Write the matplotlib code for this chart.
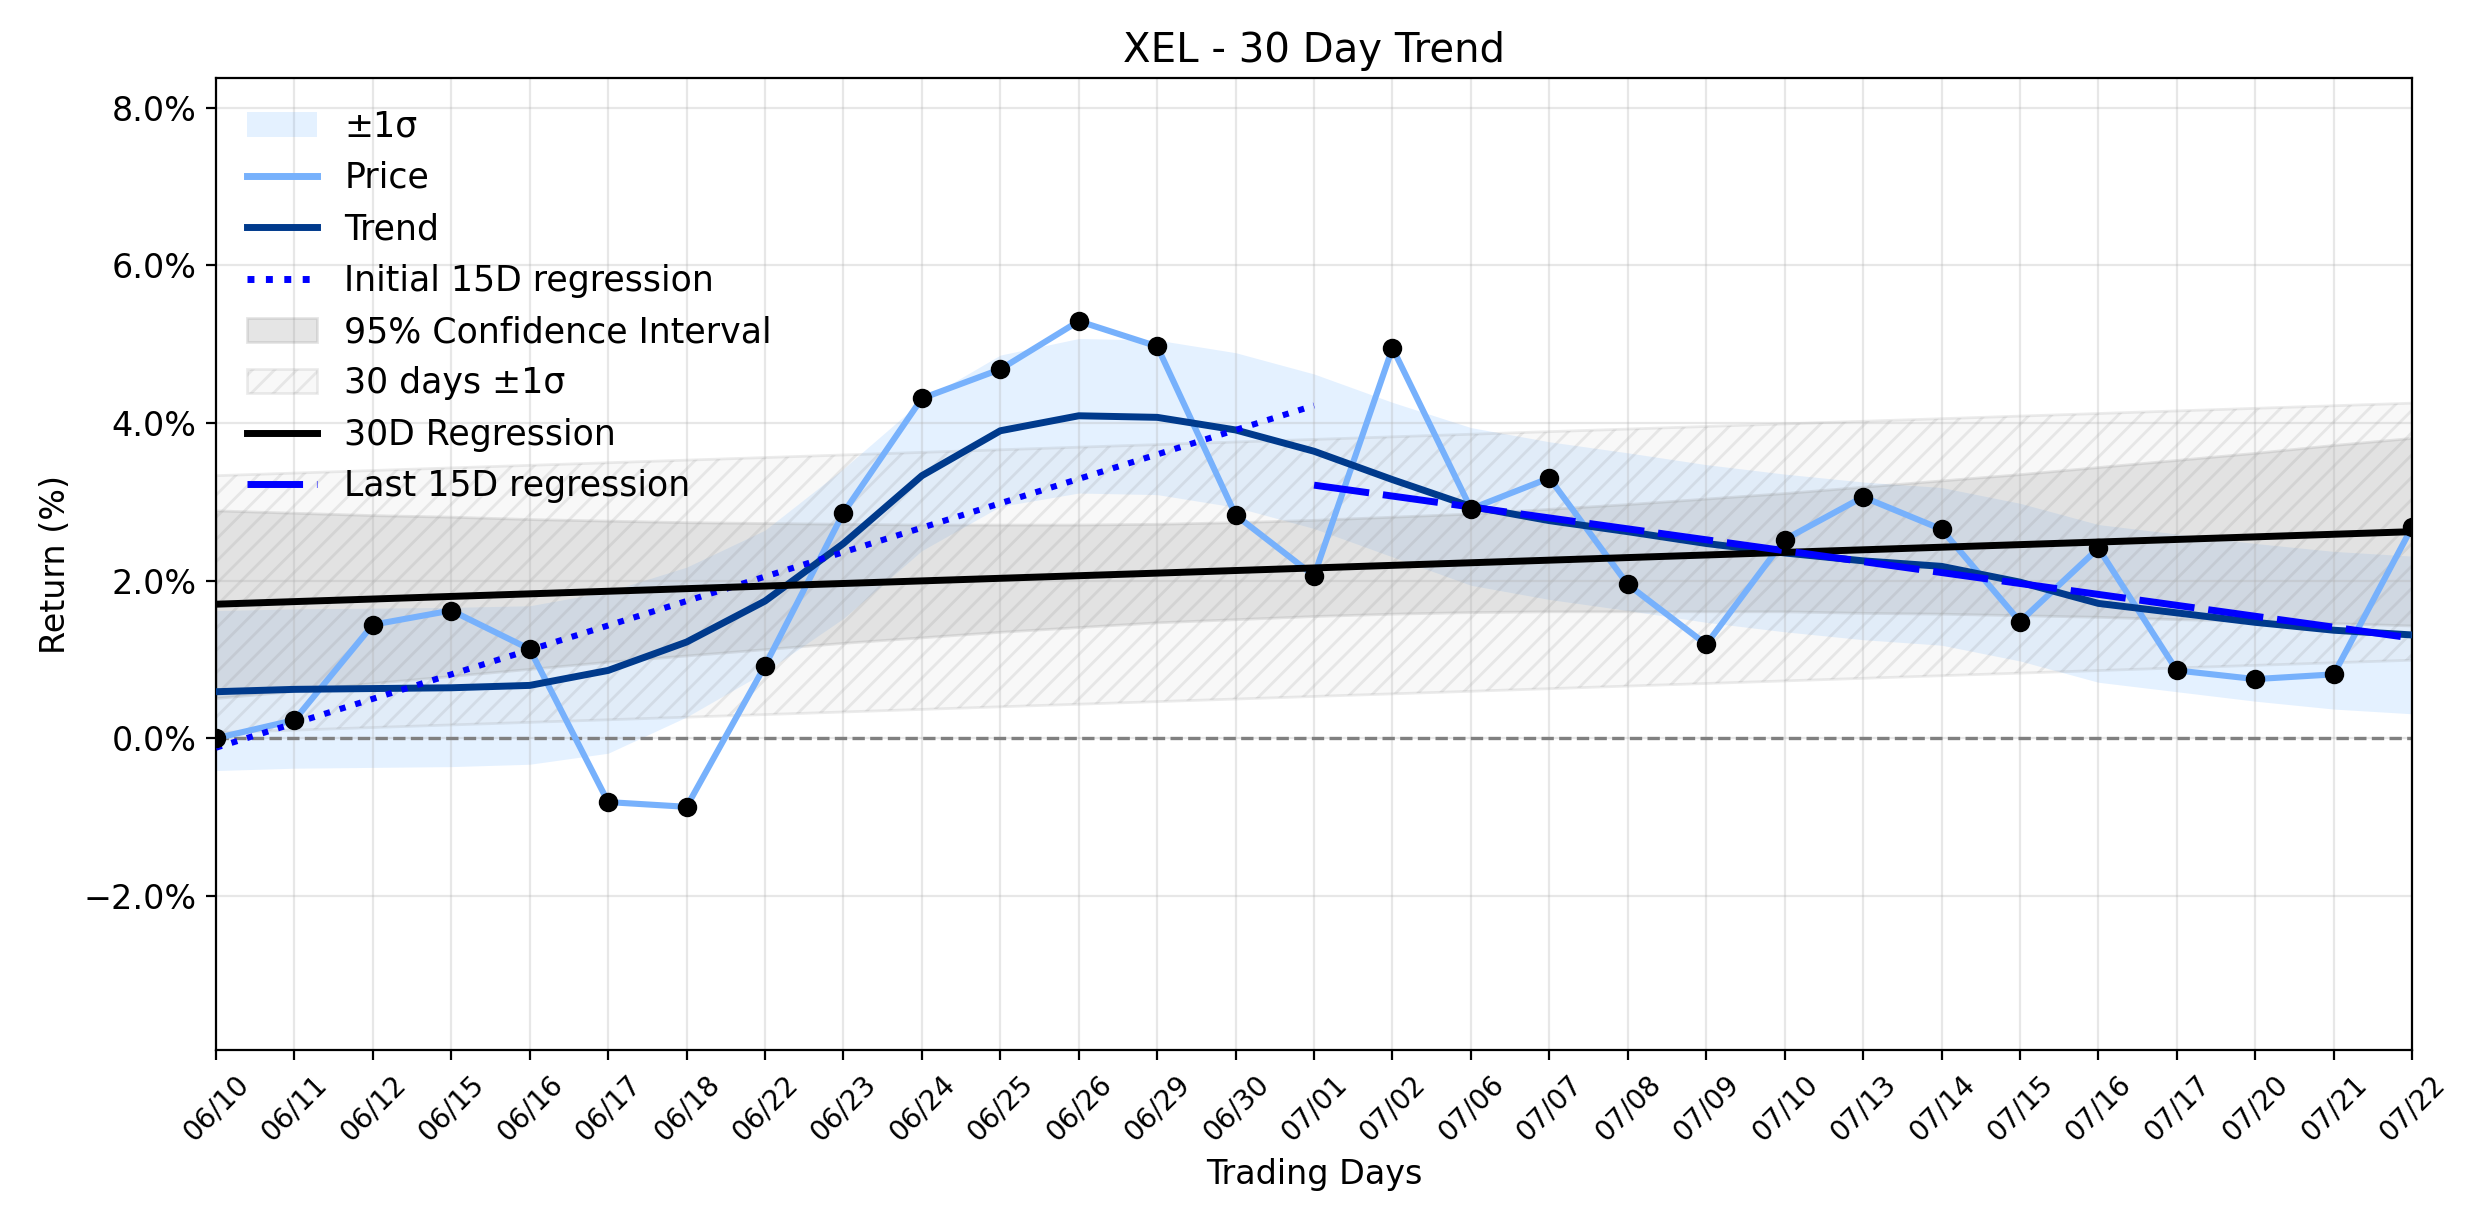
import numpy as np
import matplotlib
matplotlib.use('Agg')
import matplotlib.pyplot as plt
import matplotlib.ticker as mticker
from matplotlib.patches import Patch
from matplotlib.lines import Line2D

# trading days shown on the x axis
dates = ['06/10', '06/11', '06/12', '06/15', '06/16', '06/17', '06/18', '06/22',
         '06/23', '06/24', '06/25', '06/26', '06/29', '06/30', '07/01', '07/02',
         '07/06', '07/07', '07/08', '07/09', '07/10', '07/13', '07/14', '07/15',
         '07/16', '07/17', '07/20', '07/21', '07/22']

# cumulative return (%)
price = [0.00, 0.23, 1.44, 1.62, 1.13, -0.81, -0.87, 0.92, 2.86, 4.31, 4.68, 5.29,
         4.97, 2.83, 2.06, 4.95, 2.91, 3.30, 1.95, 1.19, 2.52, 3.06, 2.65, 1.48,
         2.41, 0.86, 0.75, 0.81, 2.68]

# smoothed trend
trend = [0.59, 0.62, 0.63, 0.64, 0.67, 0.86, 1.22, 1.74, 2.47, 3.33, 3.90, 4.09,
         4.07, 3.91, 3.64, 3.28, 2.94, 2.76, 2.62, 2.47, 2.35, 2.25, 2.18, 1.98,
         1.71, 1.59, 1.47, 1.37, 1.31]

# +/- 1 sigma band around the trend
sigma_hi = [1.62, 1.64, 1.65, 1.66, 1.68, 1.86, 2.17, 2.64, 3.42, 4.28, 4.86, 5.07,
            5.05, 4.89, 4.62, 4.26, 3.94, 3.76, 3.62, 3.47, 3.35, 3.25, 3.18, 2.98,
            2.71, 2.59, 2.47, 2.37, 2.31]
sigma_lo = [-0.41, -0.38, -0.37, -0.36, -0.33, -0.19, 0.27, 0.84, 1.52, 2.38, 2.94, 3.11,
            3.09, 2.93, 2.66, 2.30, 1.94, 1.76, 1.62, 1.47, 1.35, 1.25, 1.18, 0.98,
            0.71, 0.59, 0.47, 0.37, 0.31]

# 95% confidence interval of the 30D regression
ci_hi = [2.89, 2.86, 2.83, 2.81, 2.78, 2.76, 2.74, 2.73, 2.72, 2.71, 2.71, 2.71,
         2.72, 2.74, 2.77, 2.81, 2.85, 2.91, 2.97, 3.04, 3.11, 3.19, 3.27, 3.35,
         3.44, 3.53, 3.62, 3.72, 3.81]
ci_lo = [0.51, 0.60, 0.70, 0.79, 0.88, 0.97, 1.05, 1.13, 1.21, 1.28, 1.35, 1.41,
         1.47, 1.51, 1.55, 1.58, 1.60, 1.61, 1.61, 1.61, 1.61, 1.59, 1.58, 1.56,
         1.54, 1.51, 1.49, 1.46, 1.43]

# regression lines (start / end values)
reg30_x = [0, 28]
reg30_y = [1.70, 2.62]
band30_hi = [3.33, 4.25]
band30_lo = [0.07, 0.99]
init15_x = [0, 14]
init15_y = [-0.12, 4.22]
last15_x = [14, 28]
last15_y = [3.21, 1.27]

x = np.arange(len(dates))

fig, ax = plt.subplots(figsize=(12.37, 6.12), dpi=200)
fig.subplots_adjust(left=0.0873, right=0.975, top=0.936, bottom=0.1418)

ax.fill_between(x, sigma_lo, sigma_hi, color='#4da3ff', alpha=0.15, linewidth=0)
ax.plot(x, price, color='#77b1fc', lw=2.2, zorder=3)
ax.plot(x, trend, color='#003a8c', lw=2.5, zorder=4)
ax.plot(init15_x, init15_y, color='blue', lw=2.2, linestyle=':', zorder=4)
ax.fill_between(x, ci_lo, ci_hi, color='gray', alpha=0.2, linewidth=1)
ax.fill_between(reg30_x, band30_lo, band30_hi, facecolor='lightgray', edgecolor='gray',
                alpha=0.15, hatch='///', linewidth=1)
ax.plot(reg30_x, reg30_y, color='black', lw=2.5, zorder=4)
ax.plot(last15_x, last15_y, color='blue', lw=2.5, linestyle=(0, (8, 2)), zorder=5)
ax.plot(x, price, 'o', color='black', markersize=6, zorder=6)
ax.axhline(0, color='gray', linestyle='--', lw=1.2)

handles = [
    Patch(facecolor='#4da3ff', alpha=0.15),
    Line2D([], [], color='#77b1fc', lw=2.5),
    Line2D([], [], color='#003a8c', lw=2.5),
    Line2D([], [], color='blue', lw=2.5, linestyle=':'),
    Patch(facecolor='gray', edgecolor='gray', alpha=0.2),
    Patch(facecolor='lightgray', edgecolor='gray', alpha=0.15, hatch='///'),
    Line2D([], [], color='black', lw=2.5),
    Line2D([], [], color='blue', lw=2.5, linestyle=(0, (8, 2))),
]
labels = ['±1σ', 'Price', 'Trend', 'Initial 15D regression', '95% Confidence Interval',
          '30 days ±1σ', '30D Regression', 'Last 15D regression']
ax.legend(handles, labels, loc='upper left', frameon=False, fontsize=12.5)

ax.set_xlim(0, len(dates) - 1)
ax.set_ylim(-3.96, 8.37)
ax.set_xticks(x)
ax.set_xticklabels(dates, rotation=45, fontsize=10)
ax.set_yticks([-2, 0, 2, 4, 6, 8])
ax.yaxis.set_major_formatter(mticker.PercentFormatter(decimals=1))
ax.tick_params(axis='y', labelsize=12)
ax.grid(True, alpha=0.3)

ax.set_title('XEL - 30 Day Trend', fontsize=14.5)
ax.set_xlabel('Trading Days', fontsize=12)
ax.set_ylabel('Return (%)', fontsize=12)

plt.savefig('out.png', dpi=200)
